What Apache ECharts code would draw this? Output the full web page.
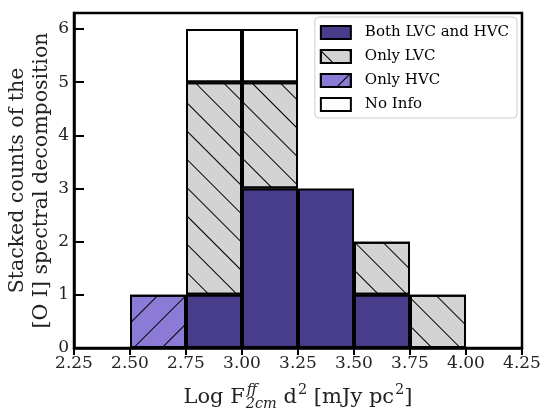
<!DOCTYPE html>
<html><head><meta charset="utf-8">
<script src="https://cdn.jsdelivr.net/npm/echarts@6/dist/echarts.min.js"></script>
<style>html,body{margin:0;padding:0;background:#fff}#c{width:543px;height:412px}</style>
</head><body><div id="c"></div>
<script>
var binLefts = [2.25, 2.50, 2.75, 3.00, 3.25, 3.50, 3.75, 4.00];
var bothLVCHVC = [0, 0, 1, 3, 3, 1, 0, 0];
var onlyLVC   = [0, 0, 4, 2, 0, 1, 1, 0];
var onlyHVC   = [0, 1, 0, 0, 0, 0, 0, 0];
var noInfo    = [0, 0, 1, 1, 0, 0, 0, 0];
var xTicks = [2.25, 2.50, 2.75, 3.00, 3.25, 3.50, 3.75, 4.00, 4.25];
var yTicks = [0, 1, 2, 3, 4, 5, 6];

function nz(a){ return a.map(function(v){ return v === 0 ? '-' : v; }); }
var font = 'DejaVu Serif';
function mk(name, data, color, decal){
  var it = {color: color, borderColor: '#000', borderWidth: 2};
  if (decal) it.decal = decal;
  return {name: name, type: 'bar', stack: 'all', xAxisIndex: 1, data: nz(data),
    barCategoryGap: '0%', barGap: '0%', itemStyle: it, emphasis: {disabled: true}};
}
var hatchBack = {symbol: 'rect', symbolSize: 1, color: '#000', dashArrayX: [1, 0], dashArrayY: [1, 19], rotation: Math.PI / 4};
var hatchFwd  = {symbol: 'rect', symbolSize: 1, color: '#000', dashArrayX: [1, 0], dashArrayY: [1, 19], rotation: -Math.PI / 4};

// x-axis title built from text pieces (stacked super/subscript)
var grid = {left: 74, right: 21, top: 13, bottom: 64};
var W = 543, H = 412;
var mctx = document.createElement('canvas').getContext('2d');
function tw(t, size, italic){ mctx.font = (italic ? 'italic ' : '') + size + 'px "DejaVu Serif"'; return mctx.measureText(t).width; }
var pieces = [
  {t: 'Log F', s: 21, i: false, dy: 0},
  {t: 'ff', s: 14.5, i: true, dy: -9, stackWith: true},
  {t: '2cm', s: 14.5, i: true, dy: 5, pre: 1},
  {t: ' d', s: 21, i: false, dy: 0},
  {t: '2', s: 14.5, i: false, dy: -9, pre: 1},
  {t: ' [mJy pc', s: 21, i: false, dy: 0},
  {t: '2', s: 14.5, i: false, dy: -9, pre: 1},
  {t: ']', s: 21, i: false, dy: 0}
];
var x = 0, items = [], pendingStack = null;
pieces.forEach(function(p){
  var w = tw(p.t, p.s, p.i);
  if (p.stackWith) { pendingStack = {p: p, x: x + 2, w: w + 2}; return; }
  var px = x + (p.pre || 0);
  items.push({p: p, x: px});
  var adv = w + (p.pre || 0);
  if (pendingStack) { items.push({p: pendingStack.p, x: pendingStack.x}); adv = Math.max(adv, pendingStack.w); pendingStack = null; }
  x += adv;
});
var total = x;
var cx = grid.left + (W - grid.left - grid.right) / 2;
var baseY = 404;
var titleEls = items.map(function(it){
  return {type: 'text', x: cx - total / 2 + it.x, y: baseY + it.p.dy - 0.3 * it.p.s, silent: true,
    style: {text: it.p.t, fontFamily: font, fontSize: it.p.s, fontStyle: it.p.i ? 'italic' : 'normal',
      fill: '#222', textAlign: 'left', textVerticalAlign: 'middle', verticalAlign: 'middle'}};
});

var chart = echarts.init(document.getElementById('c'), null, {renderer: 'canvas'});
chart.setOption({
  animation: false,
  aria: {enabled: false},
  grid: {left: grid.left, right: grid.right, top: grid.top, bottom: grid.bottom, outerBoundsMode: 'none', containLabel: false,
    show: true, borderColor: '#000', borderWidth: 2.5, backgroundColor: 'transparent'},
  graphic: titleEls,
  legend: {
    right: 26, top: 17, orient: 'vertical', icon: 'rect', itemWidth: 30, itemHeight: 13, itemGap: 9,
    backgroundColor: '#fff', borderColor: '#cccccc', borderWidth: 1, borderRadius: 4, padding: [8, 8, 6, 5],
    textStyle: {fontFamily: font, fontSize: 15, color: '#000', padding: [0, 0, 0, 9]},
    itemStyle: {borderColor: '#000', borderWidth: 2},
    data: ['Both LVC and HVC', 'Only LVC', 'Only HVC', 'No Info']
  },
  xAxis: [{
    type: 'value', min: xTicks[0], max: xTicks[xTicks.length - 1], interval: 0.25,
    axisLine: {show: true, lineStyle: {color: '#000', width: 2.5}},
    axisTick: {show: true, length: 7, lineStyle: {color: '#000', width: 2}},
    splitLine: {show: false},
    axisLabel: {fontFamily: font, fontSize: 17, color: '#222', margin: 7, formatter: function(v){ return v.toFixed(2); }}
  }, {
    type: 'category', data: binLefts.map(String), show: false, boundaryGap: true
  }],
  yAxis: {
    type: 'value', min: 0, max: 6.3, interval: 1,
    axisLine: {show: true, lineStyle: {color: '#000', width: 2.5}},
    axisTick: {show: true, inside: true, length: 10, lineStyle: {color: '#000', width: 2}},
    splitLine: {show: false},
    axisLabel: {fontFamily: font, fontSize: 17, color: '#222', margin: 5,
      formatter: function(v){ return yTicks.indexOf(v) >= 0 ? String(v) : ''; }},
    name: 'Stacked counts of the\n[O I] spectral decomposition', nameLocation: 'middle', nameGap: 20,
    nameMoveOverlap: false,
    nameTextStyle: {fontFamily: font, fontSize: 20.5, color: '#222', lineHeight: 24}
  },
  series: [
    mk('Both LVC and HVC', bothLVCHVC, '#483D8B'),
    mk('Only LVC', onlyLVC, '#D3D3D3', hatchBack),
    mk('Only HVC', onlyHVC, '#8B7AD6', hatchFwd),
    mk('No Info', noInfo, '#FFFFFF')
  ]
});
</script></body></html>
